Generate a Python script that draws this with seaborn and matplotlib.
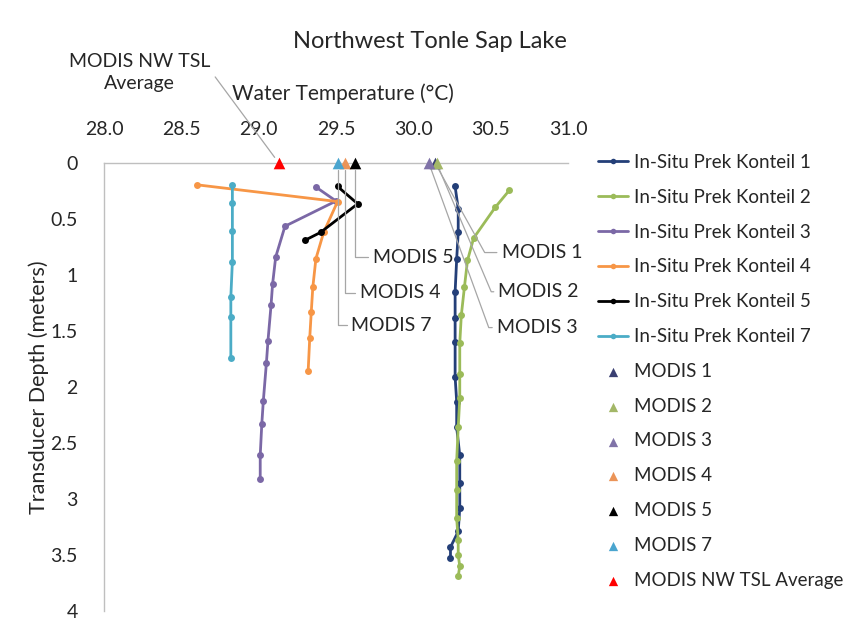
import numpy as np
import matplotlib
matplotlib.use("Agg")
import matplotlib.pyplot as plt
from matplotlib.ticker import FuncFormatter
import seaborn as sns

# depth (m) / water temperature (deg C) profiles, in measurement order
depth_1 = [0.21, 0.41, 0.62, 0.86, 1.15, 1.38, 1.60, 1.91, 2.13, 2.36, 2.61, 2.86, 3.08, 3.29, 3.43, 3.53]
temp_1 = [30.27, 30.29, 30.29, 30.28, 30.27, 30.27, 30.27, 30.27, 30.28, 30.28, 30.30, 30.30, 30.30, 30.29, 30.24, 30.24]

depth_2 = [0.245, 0.395, 0.67, 0.87, 1.11, 1.36, 1.61, 1.88, 2.10, 2.36, 2.66, 2.92, 3.17, 3.37, 3.50, 3.60, 3.69]
temp_2 = [30.62, 30.53, 30.39, 30.35, 30.33, 30.31, 30.30, 30.30, 30.30, 30.29, 30.28, 30.28, 30.28, 30.29, 30.29, 30.30, 30.29]

depth_3 = [0.215, 0.34, 0.565, 0.84, 1.08, 1.27, 1.59, 1.785, 2.125, 2.335, 2.61, 2.825]
temp_3 = [29.37, 29.50, 29.17, 29.11, 29.09, 29.08, 29.06, 29.05, 29.03, 29.02, 29.01, 29.01]

depth_4 = [0.195, 0.345, 0.62, 0.855, 1.11, 1.33, 1.565, 1.855]
temp_4 = [28.60, 29.51, 29.42, 29.37, 29.35, 29.34, 29.33, 29.32]

depth_5 = [0.21, 0.365, 0.62, 0.69]
temp_5 = [29.51, 29.64, 29.40, 29.30]

depth_7 = [0.20, 0.355, 0.605, 0.88, 1.195, 1.375, 1.74]
temp_7 = [28.83, 28.83, 28.83, 28.83, 28.82, 28.82, 28.82]

insitu_names = ["In-Situ Prek Konteil 1", "In-Situ Prek Konteil 2", "In-Situ Prek Konteil 3",
                "In-Situ Prek Konteil 4", "In-Situ Prek Konteil 5", "In-Situ Prek Konteil 7"]
insitu_depths = [depth_1, depth_2, depth_3, depth_4, depth_5, depth_7]
insitu_temps = [temp_1, temp_2, temp_3, temp_4, temp_5, temp_7]
insitu_colors = ["#243f78", "#9bbb59", "#7b68a6", "#f79646", "#000000", "#4bacc6"]

# MODIS surface temperatures (plotted at depth 0)
modis_names = ["MODIS 1", "MODIS 2", "MODIS 3", "MODIS 4", "MODIS 5", "MODIS 7", "MODIS NW TSL Average"]
modis_temps = [30.14, 30.15, 30.10, 29.56, 29.62, 29.51, 29.13]
modis_colors = ["#3a3f72", "#a3b767", "#8073a8", "#eb9458", "#000000", "#4aa5cf", "#ff0000"]

sns.set_style("white")
plt.rcParams["font.family"] = ["Lato", "DejaVu Sans"]

fig = plt.figure(figsize=(8.51, 6.26), dpi=100)
ax = fig.add_axes([0.1222, 0.024, 0.5453, 0.7157])

for name, d, t, c in zip(insitu_names, insitu_depths, insitu_temps, insitu_colors):
    sns.lineplot(x=t, y=d, sort=False, estimator=None, color=c, lw=2,
                 marker="o", markersize=5, markeredgewidth=0, label=name, ax=ax)

for name, t, c in zip(modis_names, modis_temps, modis_colors):
    sns.scatterplot(x=[t], y=[0.0], marker="^", s=70, color=c, linewidth=0,
                    clip_on=False, zorder=5, label=name, ax=ax)

ax.set_xlim(28, 31)
ax.set_ylim(4, 0)
ax.set_xticks(np.arange(28, 31.01, 0.5))
ax.set_yticks(np.arange(0, 4.01, 0.5))
ax.xaxis.set_major_formatter(FuncFormatter(lambda v, p: f"{v:.1f}"))
ax.yaxis.set_major_formatter(FuncFormatter(lambda v, p: f"{v:g}"))
ax.xaxis.tick_top()
ax.xaxis.set_label_position("top")
ax.tick_params(axis="x", length=0, pad=18, labelsize=14)
ax.tick_params(axis="y", length=0, pad=19, labelsize=14)

for side in ["right", "bottom"]:
    ax.spines[side].set_visible(False)
for side in ["left", "top"]:
    ax.spines[side].set_color("#bfbfbf")
    ax.spines[side].set_linewidth(1)

ax.set_xlabel("Water Temperature (°C)", fontsize=15)
ax.xaxis.set_label_coords(0.515, 1.14)
ax.set_ylabel("Transducer Depth (meters)", fontsize=15.5)
ax.yaxis.set_label_coords(-0.118, 0.5)

fig.text(430 / 851, 1 - 41 / 626, "Northwest Tonle Sap Lake", ha="center", va="center", fontsize=17)

# leader-line labels for the MODIS points
lead = dict(arrowstyle="-", color="#a6a6a6", lw=0.9, shrinkA=1, shrinkB=5, relpos=(0, 0.5))
label_pos = {
    "MODIS 1": ((30.57, 0.80), -61),
    "MODIS 2": ((30.55, 1.15), -67),
    "MODIS 3": ((30.54, 1.47), -70),
    "MODIS 5": ((29.74, 0.84), 90),
    "MODIS 4": ((29.655, 1.16), 90),
    "MODIS 7": ((29.60, 1.45), 90),
}
for name, t in zip(modis_names, modis_temps):
    if name not in label_pos:
        continue
    pos, angb = label_pos[name]
    ax.annotate(name, xy=(t, 0.0), xytext=pos, fontsize=14, va="center", ha="left",
                arrowprops=dict(lead, connectionstyle=f"angle,angleA=0,angleB={angb},rad=0"),
                annotation_clip=False)

ax.annotate("MODIS NW TSL\nAverage", xy=(modis_temps[-1], 0.0), xytext=(28.23, -0.81),
            fontsize=14, ha="center", va="center", linespacing=1.35,
            arrowprops=dict(arrowstyle="-", color="#a6a6a6", lw=0.9, shrinkA=2, shrinkB=5,
                            relpos=(1, 0.55)),
            annotation_clip=False)

ax.legend(loc="upper left", bbox_to_anchor=(598 / 851, 1 - 154 / 626), bbox_transform=fig.transFigure,
          frameon=False, fontsize=13.5, handlelength=1.6, handletextpad=0.3, labelspacing=0.95,
          borderpad=0, borderaxespad=0, markerscale=0.8)

fig.savefig("out.png", dpi=100)
